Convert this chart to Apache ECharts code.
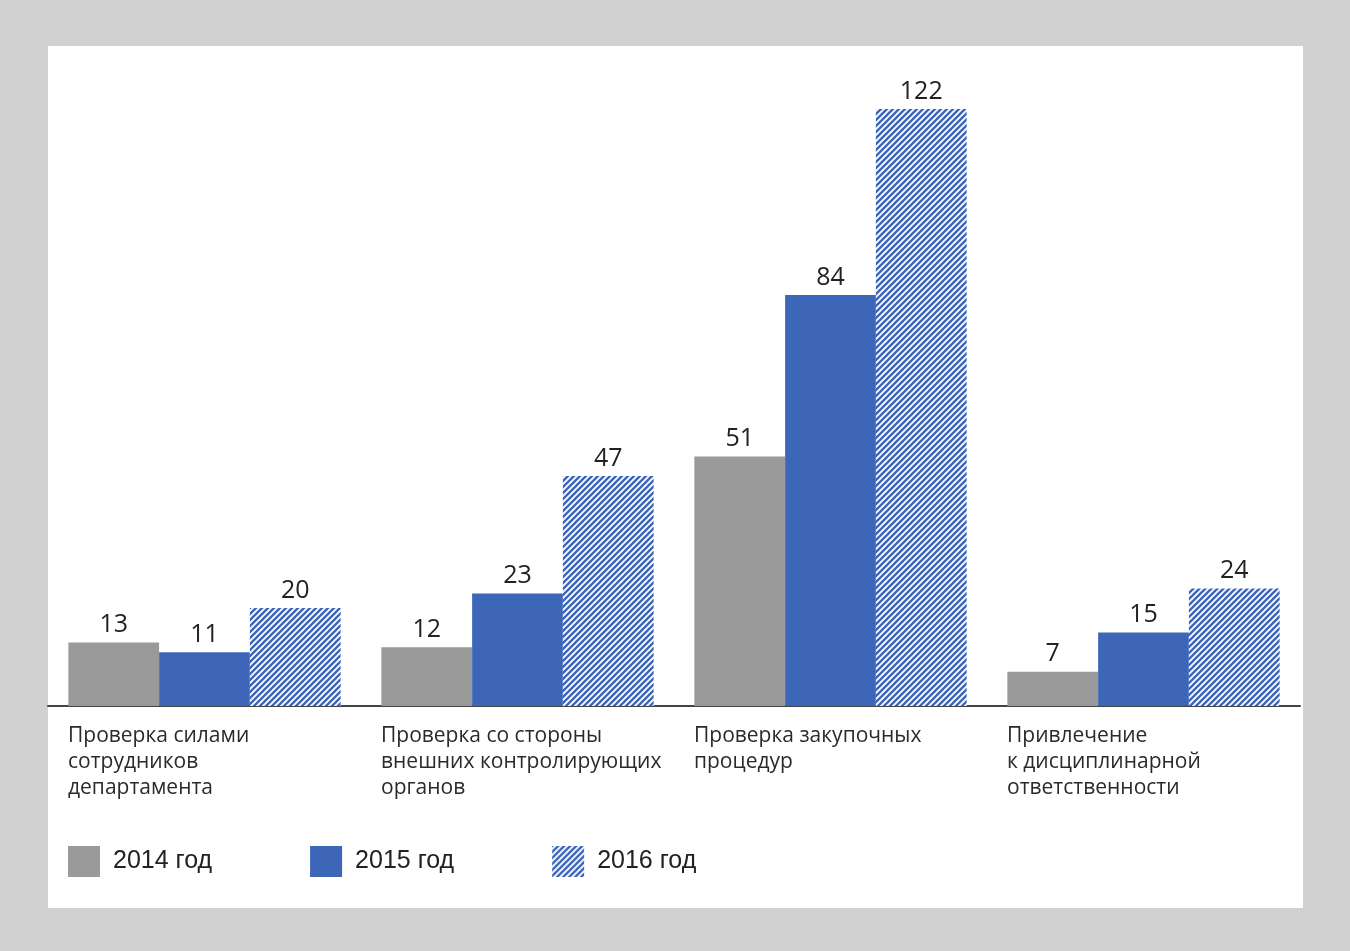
<!DOCTYPE html>
<html>
<head>
<meta charset="utf-8">
<script src="https://cdn.jsdelivr.net/npm/echarts@6/dist/echarts.min.js"></script>
<style>
  html, body { margin: 0; padding: 0; background: #d1d1d1; }
  #frame { position: absolute; left: 48px; top: 46px; width: 1255px; height: 862px; background: #fff; }
  #chart { position: absolute; left: 0; top: 0; width: 1350px; height: 951px; }
</style>
</head>
<body>
<div id="frame"></div>
<div id="chart"></div>
<script>
    "use strict";

    // категории
    var categories = [
        "Проверка силами\nсотрудников\nдепартамента",
        "Проверка со стороны\nвнешних контролирующих\nорганов",
        "Проверка закупочных\nпроцедур",
        "Привлечение\nк дисциплинарной\nответственности"
    ];
    var years = ["2014 год", "2015 год", "2016 год"];
    var values2014 = [13, 12, 51, 7];
    var values2015 = [11, 23, 84, 15];
    var values2016 = [20, 47, 122, 24];

    // штриховка для 2016
    var tile = document.createElement("canvas");
    tile.width = 6;
    tile.height = 6;
    var ctx = tile.getContext("2d");
    ctx.fillStyle = "#ffffff";
    ctx.fillRect(0, 0, 6, 6);
    ctx.strokeStyle = "#3d66b8";
    ctx.lineWidth = 2.4;
    ctx.beginPath();
    ctx.moveTo(-1, 7); ctx.lineTo(7, -1);
    ctx.moveTo(-4, 4); ctx.lineTo(4, -4);
    ctx.moveTo(2, 10); ctx.lineTo(10, 2);
    ctx.stroke();
    var hatch = { image: tile, repeat: "repeat" };

    var font = "'Open Sans', 'Noto Sans', sans-serif";
    var valueLabel = {
        show: true,
        position: "top",
        distance: 5,
        fontSize: 25,
        color: "#222",
        fontFamily: font
    };

    var chart = echarts.init(document.getElementById("chart"));
    var option = {
        backgroundColor: "transparent",
        animation: false,
        grid: { left: 48, right: 50, top: 60, bottom: 245 },
        legend: {
            left: 63,
            top: 841,
            icon: "rect",
            itemWidth: 32,
            itemHeight: 31,
            itemGap: 98,
            textStyle: {
                fontSize: 25,
                color: "#222",
                padding: [0, 0, 0, 8],
                fontFamily: "'Liberation Sans', Arial, sans-serif"
            },
            data: years
        },
        xAxis: {
            type: "category",
            data: categories,
            axisLine: { lineStyle: { color: "#444", width: 2 } },
            axisTick: { show: false },
            axisLabel: { show: false }
        },
        yAxis: {
            type: "value",
            min: 0,
            max: 132,
            show: false,
            splitLine: { show: false }
        },
        series: [
            { name: years[0], type: "bar", data: values2014, barGap: "0%", barCategoryGap: "13%",
              itemStyle: { color: "#9a9a9a" }, label: valueLabel },
            { name: years[1], type: "bar", data: values2015,
              itemStyle: { color: "#3d66b8" }, label: valueLabel },
            { name: years[2], type: "bar", data: values2016,
              itemStyle: { color: hatch }, label: valueLabel }
        ]
    };
    chart.setOption(option);

    // подписи категорий, выровненные по левому краю группы
    var c0 = chart.convertToPixel({ xAxisIndex: 0 }, 0);
    var c1 = chart.convertToPixel({ xAxisIndex: 0 }, 1);
    var band = c1 - c0;
    var labels = categories.map(function (name, i) {
        var cx = chart.convertToPixel({ xAxisIndex: 0 }, i);
        return {
            type: "text",
            left: cx - band / 2 + 20,
            top: 723,
            style: {
                text: name,
                fontSize: 21,
                lineHeight: 26,
                fill: "#2a2a2a",
                fontFamily: font
            }
        };
    });
    chart.setOption({ graphic: labels });
</script>
</body>
</html>
